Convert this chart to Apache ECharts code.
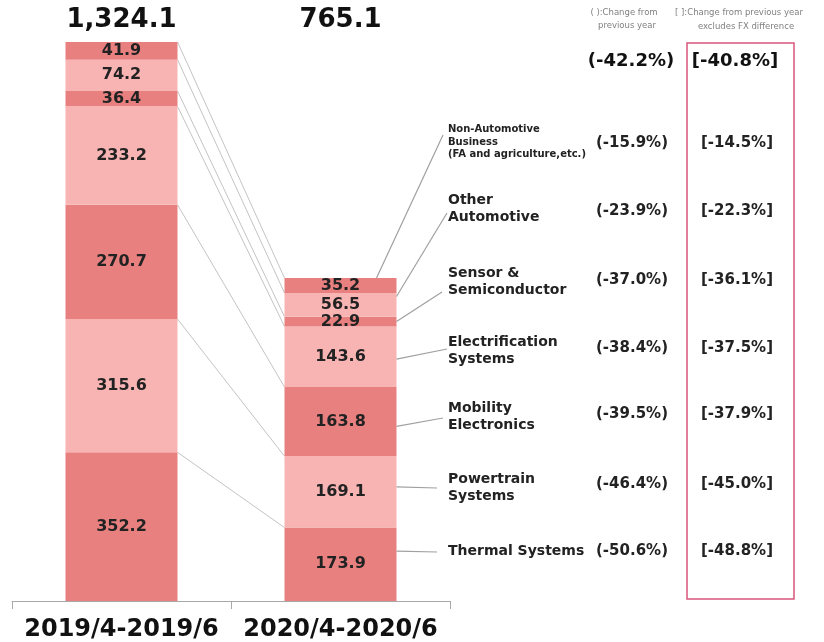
<!DOCTYPE html>
<html>
<head>
<meta charset="utf-8">
<script src="https://cdn.jsdelivr.net/npm/echarts@6/dist/echarts.min.js"></script>
<style>
  html, body { margin: 0; padding: 0; background: #ffffff; }
  #chart { width: 824px; height: 642px; }
</style>
</head>
<body>
<div id="chart"></div>
<script>
// Quarterly revenue by business segment (stacked bottom to top)
const categories = ['2019/4-2019/6', '2020/4-2020/6'];
const thermalSystems = [352.2, 173.9];
const powertrainSystems = [315.6, 169.1];
const mobilityElectronics = [270.7, 163.8];
const electrificationSystems = [233.2, 143.6];
const sensorSemiconductor = [36.4, 22.9];
const otherAutomotive = [74.2, 56.5];
const nonAutomotive = [41.9, 35.2];
const totals = [1324.1, 765.1];

const segmentNames = [
  'Thermal Systems',
  'Powertrain\nSystems',
  'Mobility\nElectronics',
  'Electrification\nSystems',
  'Sensor &\nSemiconductor',
  'Other\nAutomotive',
  'Non-Automotive\nBusiness\n(FA and agriculture,etc.)'
];
// year-on-year change, and change excluding FX difference (%)
const changeYoY = [-50.6, -46.4, -39.5, -38.4, -37.0, -23.9, -15.9];
const changeExFx = [-48.8, -45.0, -37.9, -37.5, -36.1, -22.3, -14.5];
const totalChangeYoY = -42.2;
const totalChangeExFx = -40.8;

const segments = [thermalSystems, powertrainSystems, mobilityElectronics,
  electrificationSystems, sensorSemiconductor, otherAutomotive, nonAutomotive];
const DARK = '#e98080';
const LIGHT = '#f8b4b3';
const segColors = [DARK, LIGHT, DARK, LIGHT, DARK, LIGHT, DARK];
const FONT = 'DejaVu Sans';
const BAR_W = 112;

// cumulative tops of each segment per category
const cumTops = segments.map((_, i) =>
  categories.map((__, c) => segments.slice(0, i + 1).reduce((s, a) => s + a[c], 0)));
const cumBottoms = segments.map((_, i) =>
  categories.map((__, c) => segments.slice(0, i).reduce((s, a) => s + a[c], 0)));

// right-hand annotation layout
const rowLabelY = [551, 488, 417, 351, 282, 209, 142];
const rowPctY = [551, 484, 414, 348, 280, 211, 143];
const leaderEnd = [[437, 552], [437, 488], [443, 418], [447, 349], [442, 292], [447, 213], [443, 135]];
const leaderAnchor = [0.68, 0.57, 0.43, 0.46, 0.5, 0.85, 1.0];
const leaderInset = [0, 0, 0, 0, 0, 0, 20];

const fmtPct = v => v.toFixed(1) + '%';

const barSeries = segments.map((vals, i) => ({
  type: 'bar',
  stack: 'total',
  barWidth: BAR_W,
  data: vals,
  itemStyle: { color: segColors[i] },
  silent: true,
  label: {
    show: true,
    position: 'inside',
    fontFamily: FONT,
    fontWeight: 'bold',
    fontSize: 16,
    color: '#222',
    formatter: p => p.value.toFixed(1)
  },
  z: 2
}));

// connector lines between the tops of matching segments
const connectorSeries = {
  type: 'custom',
  silent: true,
  z: 1,
  encode: { x: 0, y: [1, 2] },
  data: cumTops.map(t => [0, t[0], t[1]]),
  renderItem: (params, api) => {
    const a = api.coord([0, api.value(1)]);
    const b = api.coord([1, api.value(2)]);
    return {
      type: 'line',
      shape: { x1: a[0] + BAR_W / 2, y1: a[1], x2: b[0] - BAR_W / 2, y2: b[1] },
      style: { stroke: '#c4c4c4', lineWidth: 1 }
    };
  }
};

// leader lines from the second bar to the segment names
const leaderSeries = {
  type: 'custom',
  silent: true,
  z: 3,
  encode: { x: 0, y: 1 },
  data: segments.map((vals, i) => [1, cumBottoms[i][1] + leaderAnchor[i] * vals[1]]),
  renderItem: (params, api) => {
    const i = params.dataIndex;
    const p = api.coord([1, api.value(1)]);
    return {
      type: 'line',
      shape: { x1: p[0] + BAR_W / 2 - leaderInset[i], y1: p[1], x2: leaderEnd[i][0], y2: leaderEnd[i][1] },
      style: { stroke: '#a0a0a0', lineWidth: 1.2 }
    };
  }
};

const chart = echarts.init(document.getElementById('chart'), null, { renderer: 'canvas' });

chart.setOption({
  animation: false,
  backgroundColor: '#ffffff',
  grid: { left: 12, right: 374, top: 42, bottom: 40, containLabel: false },
  xAxis: {
    type: 'category',
    data: categories,
    axisLine: { lineStyle: { color: '#a8a8a8', width: 1 } },
    axisTick: { show: true, interval: 0, length: 8, lineStyle: { color: '#a8a8a8' } },
    axisLabel: {
      interval: 0,
      hideOverlap: false,
      fontFamily: FONT,
      fontWeight: 'bold',
      fontSize: 24,
      color: '#111',
      margin: 17
    }
  },
  yAxis: {
    type: 'value',
    min: 0,
    max: totals[0],
    show: false,
    splitLine: { show: false }
  },
  series: [...barSeries, connectorSeries, leaderSeries]
});

// text annotations positioned from the axis scale
const graphics = [];
categories.forEach((c, i) => {
  const x = chart.convertToPixel({ xAxisIndex: 0 }, i);
  graphics.push({
    type: 'text', x: x, y: 20,
    style: {
      text: totals[i].toLocaleString('en-US', { minimumFractionDigits: 1, maximumFractionDigits: 1 }),
      font: 'bold 26px "' + FONT + '"', fill: '#111', align: 'center', verticalAlign: 'middle'
    }
  });
});

graphics.push(
  { type: 'text', x: 624, y: 13, style: { text: '( ):Change from', font: '8.5px "' + FONT + '"', fill: '#808080', align: 'center', verticalAlign: 'middle' } },
  { type: 'text', x: 627, y: 26, style: { text: 'previous year', font: '8.5px "' + FONT + '"', fill: '#808080', align: 'center', verticalAlign: 'middle' } },
  { type: 'text', x: 675, y: 13, style: { text: '[ ]:Change from previous year', font: '8.5px "' + FONT + '"', fill: '#808080', align: 'left', verticalAlign: 'middle' } },
  { type: 'text', x: 746, y: 27, style: { text: 'excludes FX difference', font: '8.5px "' + FONT + '"', fill: '#808080', align: 'center', verticalAlign: 'middle' } },
  { type: 'text', x: 631, y: 61, style: { text: '(' + fmtPct(totalChangeYoY) + ')', font: 'bold 18px "' + FONT + '"', fill: '#111', align: 'center', verticalAlign: 'middle' } },
  { type: 'text', x: 735, y: 61, style: { text: '[' + fmtPct(totalChangeExFx) + ']', font: 'bold 18px "' + FONT + '"', fill: '#111', align: 'center', verticalAlign: 'middle' } },
  { type: 'rect', shape: { x: 687, y: 43, width: 107, height: 556 }, style: { fill: 'none', stroke: '#d9557c', lineWidth: 1.5 } }
);

segmentNames.forEach((name, i) => {
  const small = i === 6;
  graphics.push({
    type: 'text', x: 448, y: rowLabelY[i],
    style: {
      text: name,
      font: 'bold ' + (small ? 10 : 14) + 'px "' + FONT + '"',
      lineHeight: small ? 12.5 : 17,
      fill: '#222', align: 'left', verticalAlign: 'middle'
    }
  });
  graphics.push({
    type: 'text', x: 632, y: rowPctY[i],
    style: { text: '(' + fmtPct(changeYoY[i]) + ')', font: 'bold 15px "' + FONT + '"', fill: '#222', align: 'center', verticalAlign: 'middle' }
  });
  graphics.push({
    type: 'text', x: 737, y: rowPctY[i],
    style: { text: '[' + fmtPct(changeExFx[i]) + ']', font: 'bold 15px "' + FONT + '"', fill: '#222', align: 'center', verticalAlign: 'middle' }
  });
});

chart.setOption({ graphic: { elements: graphics } });
</script>
</body>
</html>
